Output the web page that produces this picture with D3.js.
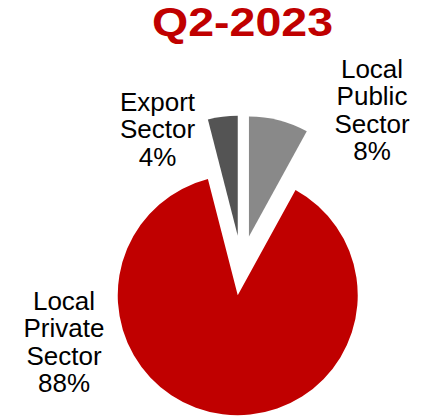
<!DOCTYPE html>
<html>
<head>
<meta charset="utf-8">
<script src="https://cdn.jsdelivr.net/npm/d3@7"></script>
<style>
  html, body { margin: 0; padding: 0; background: #ffffff; }
  svg { display: block; }
  text { font-family: "Liberation Sans", Arial, sans-serif; }
</style>
</head>
<body>
<svg id="chart" width="421" height="419"></svg>
<script>
// Revenue share by sector, Q2-2023
const title = "Q2-2023";
const sectors = ["Local Public Sector", "Local Private Sector", "Export Sector"];
const shares = [8, 88, 4];
const labelLines = [
  ["Local", "Public", "Sector", "8%"],
  ["Local", "Private", "Sector", "88%"],
  ["Export", "Sector", "4%"]
];
const colors = ["#898989", "#C00000", "#545454"];

const svg = d3.select("#chart");
const W = 421, H = 419;
const cx = 241.5, cy = 265.5, radius = 120, explode = 30;

// Title
svg.append("text")
  .attr("x", 242.5)
  .attr("y", 36)
  .attr("text-anchor", "middle")
  .attr("font-size", 40)
  .attr("font-weight", "bold")
  .attr("fill", "#C00000")
  .attr("textLength", 181)
  .attr("lengthAdjust", "spacingAndGlyphs")
  .text(title);

const pie = d3.pie().sort(null).value(d => d.value).startAngle(0).endAngle(2 * Math.PI);
const arcs = pie(sectors.map((s, i) => ({ name: s, value: shares[i], lines: labelLines[i], color: colors[i] })));
const arc = d3.arc().innerRadius(0).outerRadius(radius);

const g = svg.append("g").attr("transform", `translate(${cx},${cy})`);

// Every slice is pulled out from the centre along its mid-angle
g.selectAll("path.slice")
  .data(arcs)
  .join("path")
  .attr("class", "slice")
  .attr("d", arc)
  .attr("fill", d => d.data.color)
  .attr("transform", d => {
    const a = (d.startAngle + d.endAngle) / 2;
    return `translate(${explode * Math.sin(a)},${-explode * Math.cos(a)})`;
  });

// Outside labels: centre x and first baseline for each slice
const labelPos = [
  { x: 372, y: 78 },
  { x: 64, y: 310 },
  { x: 157.5, y: 111 }
];
const lineGap = 27.3;

arcs.forEach((d, i) => {
  const t = svg.append("text")
    .attr("text-anchor", "middle")
    .attr("font-size", 26)
    .attr("fill", "#000000");
  d.data.lines.forEach((ln, j) => {
    t.append("tspan")
      .attr("x", labelPos[i].x)
      .attr("y", labelPos[i].y + j * lineGap)
      .text(ln);
  });
});
</script>
</body>
</html>
